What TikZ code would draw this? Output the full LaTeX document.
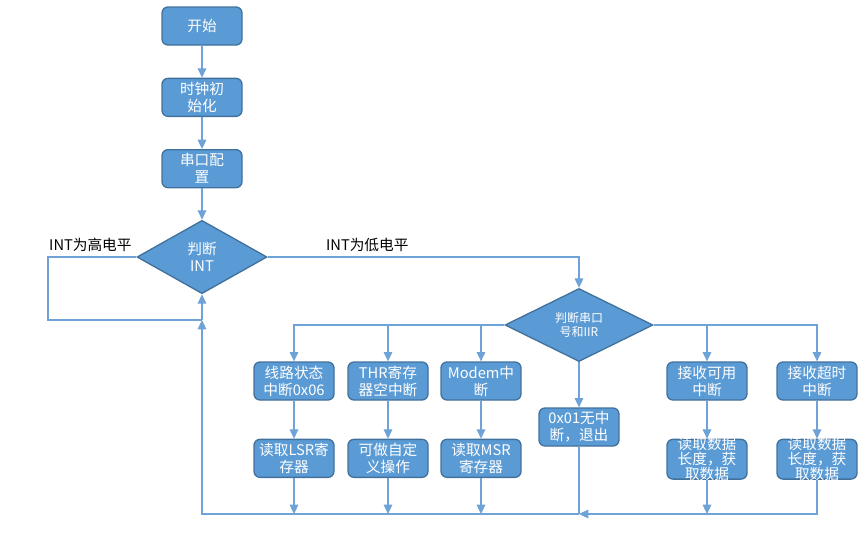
\documentclass[tikz,border=0pt]{standalone}
\usepackage{fontspec}
\setmainfont{Noto Sans CJK SC}
\usetikzlibrary{shapes.geometric, arrows.meta, positioning}
\definecolor{boxblue}{HTML}{5B9BD5}
\definecolor{boxedge}{HTML}{41719C}
\definecolor{linkblue}{HTML}{6FA3D8}

\begin{document}
\begin{tikzpicture}[
    x=0.75pt, y=-0.75pt,
    node distance=24pt and 10.5pt,
    every node/.style={font=\fontsize{11}{12.75}\selectfont},
    proc/.style={draw=boxedge, fill=boxblue, rounded corners=4.5pt, minimum width=60pt, minimum height=28.5pt, align=center, text=white, line width=1pt, inner sep=1pt},
    tall/.style={font=\fontsize{11}{10}\selectfont, inner ysep=-1.5pt},
    test/.style={draw=boxedge, fill=boxblue, diamond, align=center, text=white, line width=1pt, inner sep=0pt},
    arrow/.style={-{Triangle[length=7pt, width=6.5pt]}, draw=linkblue, line width=0.8pt},
    link/.style={draw=linkblue, line width=0.8pt}
]
    \useasboundingbox (0,0) rectangle (865,540);

    % Main column
    \node[proc] (start) at (202,26) {开始};
    \node[proc, below=of start] (clk) {时钟初\\始化};
    \node[proc, below=of clk] (uart) {串口配\\置};
    \node[test, minimum width=97.5pt, minimum height=55pt] (judge) at (202,257) {判断\\INT};

    % IIR check
    \node[test, minimum width=111pt, minimum height=45pt, font=\fontsize{9}{10.5}\selectfont] (iir) at (579,325) {判断串口\\号和IIR};

    % Interrupt sources
    \node[proc] (lsr) at (294,381) {线路状态\\中断0x06};
    \node[proc] (thr) at (388,381) {THR寄存\\器空中断};
    \node[proc] (mdm) at (481,381) {Modem中\\断};
    \node[proc] (none) at (579,427) {0x01无中\\断，退出};
    \node[proc] (rxa) at (707,381) {接收可用\\中断};
    \node[proc] (rxt) at (817,381) {接收超时\\中断};

    % Handlers
    \node[proc, below=28.5pt of lsr] (lsrrd) {读取LSR寄\\存器};
    \node[proc, below=28.5pt of thr] (throp) {可做自定\\义操作};
    \node[proc, below=28.5pt of mdm] (mdmrd) {读取MSR\\寄存器};
    \node[proc, tall, below=28.5pt of rxa] (rxard) {读取数据\\长度，获\\取数据};
    \node[proc, tall, below=28.5pt of rxt] (rxtrd) {读取数据\\长度，获\\取数据};

    % Loop points
    \coordinate (merge) at (579,514);
    \coordinate (rejoin) at (202,320);
    \coordinate (loop) at (48,320);

    % Arrows
    \draw[arrow] (start) -- (clk);
    \draw[arrow] (clk) -- (uart);
    \draw[arrow] (uart) -- (judge);
    \draw[link] (judge.west) -| node[pos=0.26, above, text=black] {INT为高电平} (loop) -- (rejoin);
    \draw[arrow] (judge.east) -| node[pos=0.16, above, text=black] {INT为低电平} (iir.north);
    \draw[arrow] (iir.west) -| (lsr.north);
    \draw[arrow] (iir.west) -| (thr.north);
    \draw[arrow] (iir.west) -| (mdm.north);
    \draw[arrow] (iir.east) -| (rxa.north);
    \draw[arrow] (iir.east) -| (rxt.north);
    \draw[arrow] (iir.south) -- (none.north);
    \draw[arrow] (lsr) -- (lsrrd);
    \draw[arrow] (thr) -- (throp);
    \draw[arrow] (mdm) -- (mdmrd);
    \draw[arrow] (rxa) -- (rxard);
    \draw[arrow] (rxt) -- (rxtrd);
    \draw[arrow] (lsrrd.south) -- (lsrrd.south |- merge);
    \draw[arrow] (throp.south) -- (throp.south |- merge);
    \draw[arrow] (mdmrd.south) -- (mdmrd.south |- merge);
    \draw[arrow] (rxard.south) -- (rxard.south |- merge);
    \draw[link] (none.south) -- (merge);
    \draw[arrow] (rxtrd.south) |- (merge);
    \draw[arrow] (merge) -| (rejoin);
    \draw[arrow] (rejoin) -- (judge.south);
\end{tikzpicture}
\end{document}
